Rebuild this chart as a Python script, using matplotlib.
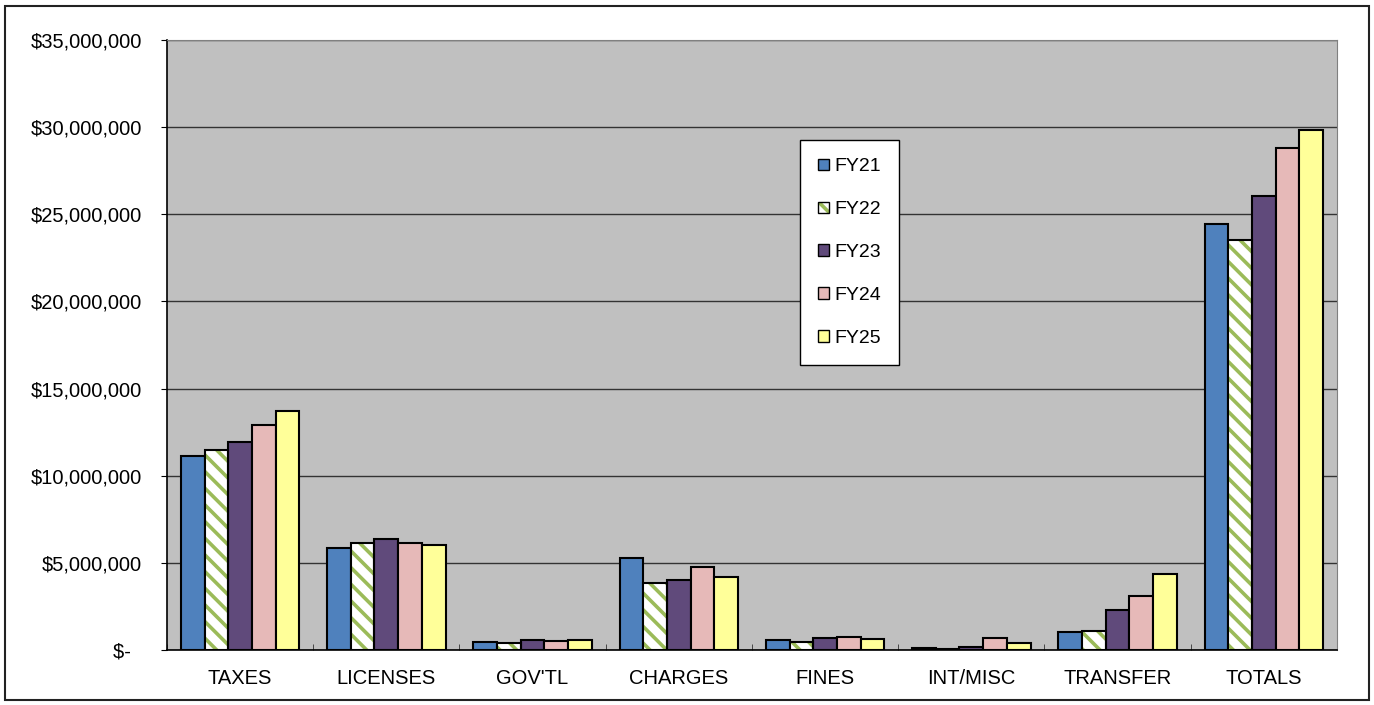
import numpy as np
import matplotlib.pyplot as plt
from matplotlib.patches import Rectangle
from matplotlib.ticker import FuncFormatter
from matplotlib.legend_handler import HandlerTuple

plt.rcParams['font.family'] = ['Liberation Sans', 'DejaVu Sans']
plt.rcParams['hatch.linewidth'] = 2.6

categories = ["TAXES", "LICENSES", "GOV'TL", "CHARGES", "FINES", "INT/MISC", "TRANSFER", "TOTALS"]
years = ["FY21", "FY22", "FY23", "FY24", "FY25"]

# revenue by source, millions of dollars
fy21 = [11.15, 5.87, 0.44, 5.29, 0.56, 0.13, 1.01, 24.42]
fy22 = [11.49, 6.16, 0.42, 3.83, 0.48, 0.08, 1.08, 23.49]
fy23 = [11.93, 6.37, 0.57, 4.04, 0.71, 0.17, 2.28, 26.03]
fy24 = [12.91, 6.12, 0.54, 4.77, 0.73, 0.67, 3.08, 28.77]
fy25 = [13.69, 6.02, 0.59, 4.18, 0.61, 0.38, 4.35, 29.82]

series = [fy21, fy22, fy23, fy24, fy25]
colors = ['#4F81BD', 'white', '#604A7B', '#E6B9B8', '#FFFF99']
green = '#9BBB59'
stripes = '\\\\'

fig = plt.figure(figsize=(13.74, 7.05), dpi=100)
ax = fig.add_axes([0.1215, 0.078, 0.8515, 0.8655])
ax.set_facecolor('#C0C0C0')

x = np.arange(len(categories))
w = 0.162
for i, (vals, c) in enumerate(zip(series, colors)):
    pos = x + (i - 2) * w
    v = np.array(vals) * 1e6
    if i == 1:
        # white bars with green diagonal stripes, outline drawn separately
        ax.bar(pos, v, w, color='white', edgecolor=green, hatch=stripes,
               linewidth=0, zorder=3)
        ax.bar(pos, v, w, fill=False, edgecolor='black', linewidth=1.5, zorder=4)
    else:
        ax.bar(pos, v, w, color=c, edgecolor='black', linewidth=1.5, zorder=3)

ax.set_xlim(-0.5, len(categories) - 0.5)
ax.set_ylim(0, 35e6)
ax.set_yticks(np.arange(0, 35e6 + 1, 5e6))
ax.yaxis.set_major_formatter(FuncFormatter(
    lambda v, p: '$-  ' if v == 0 else '${:,.0f}'.format(v)))
ax.yaxis.grid(True, color='#333333', linewidth=1.0)
ax.set_axisbelow(True)

ax.set_xticks(x)
ax.set_xticklabels(categories)
ax.set_xticks(np.arange(-0.5, len(categories)), minor=True)
ax.tick_params(axis='x', which='major', length=0, labelsize=14.5, pad=14)
ax.tick_params(axis='x', which='minor', direction='in', length=4, color='#333333')
ax.tick_params(axis='y', length=4, labelsize=14.5, pad=14)

for s in ['top', 'right']:
    ax.spines[s].set_color('#808080')
for s in ['left', 'bottom']:
    ax.spines[s].set_color('black')
    ax.spines[s].set_linewidth(1.2)

# legend handles: small squares
proxies = []
for i, c in enumerate(colors):
    if i == 1:
        fill = Rectangle((0, 0), 1, 1, facecolor='white', edgecolor=green,
                         hatch=stripes, linewidth=0)
        edge = Rectangle((0, 0), 1, 1, fill=False, edgecolor='black', linewidth=1)
        proxies.append((fill, edge))
    else:
        proxies.append(Rectangle((0, 0), 1, 1, facecolor=c, edgecolor='black', linewidth=1))
leg = fig.legend(proxies, years, loc='upper left', bbox_to_anchor=(0.5822, 0.8014),
                 fontsize=14, handlelength=0.55, handleheight=0.55, handletextpad=0.25,
                 labelspacing=1.33, borderpad=0.95, borderaxespad=0, fancybox=False,
                 frameon=True, framealpha=1, edgecolor='black',
                 handler_map={tuple: HandlerTuple(ndivide=1, pad=0)})
leg.get_frame().set_linewidth(1)

# outer border
fig.patches.append(Rectangle((0.004, 0.007), 0.992, 0.985, transform=fig.transFigure,
                             fill=False, edgecolor='#222222', linewidth=1.5))

fig.savefig('out.png', dpi=100)
